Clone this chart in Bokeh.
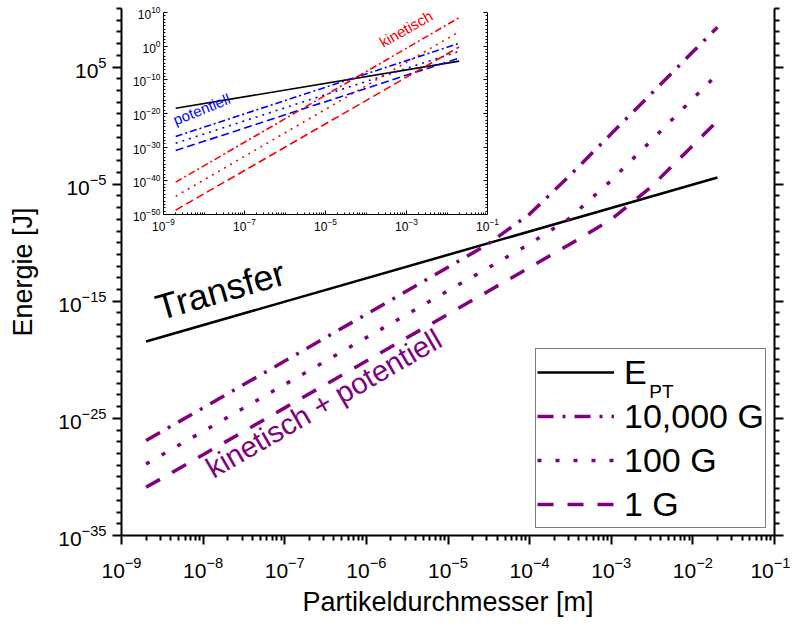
from bokeh.plotting import figure
from bokeh.models import (LogAxis, FixedTicker, CustomJSTickFormatter, Legend,
                          LegendItem, Label, Range1d)
from bokeh.layouts import column
from bokeh.embed import file_html
from bokeh.resources import INLINE

# ---------------- data ----------------
# main plot: particle diameter [m] and energy [J]
d_main = [2e-9, 1e-8, 1e-7, 1e-6, 1e-5, 3e-5, 1e-4, 3e-4, 1e-3, 3e-3, 1e-2, 2e-2]
e_10000g = [1.3e-27, 7.9e-25, 7.9e-21, 7.9e-17, 8.0e-13, 6.7e-11, 2.8e-8, 4.3e-5, 0.20, 430.0, 2.0e6, 2.5e8]
e_100g = [1.3e-29, 7.9e-27, 7.9e-23, 7.9e-19, 7.9e-15, 6.3e-13, 8.1e-11, 1.06e-8, 2.1e-5, 0.043, 200.0, 2.5e4]
e_1g = [1.3e-31, 7.9e-29, 7.9e-25, 7.9e-21, 7.9e-17, 6.3e-15, 7.9e-13, 6.4e-11, 9.9e-9, 4.9e-6, 0.020, 2.5]
d_pt = [2e-9, 2e-2]
e_pt = [3.7e-19, 3.7e-5]

# inset: potential (blue) and kinetic (red) energy
d_inset = [2e-9, 2e-2]
pot_10000g = [1.5e-27, 7.0]
pot_100g = [1.5e-29, 0.03]
pot_1g = [1.0e-31, 3e-4]
kin_10000g = [4e-41, 3e8]
kin_100g = [2.5e-45, 2e4]
kin_1g = [2e-49, 0.6]
e_pt_inset = [3.7e-19, 3.7e-5]

legend_labels = ["E", "10,000 G", "100 G", "1 G"]

FONT = "Liberation Sans"
PURPLE = "#800080"
RED = "#ff0000"
BLUE = "#0000ff"

blank = CustomJSTickFormatter(code="return ''")

LEFT, RIGHT = 121, 16

# ---------------- inset figure ----------------
ins = figure(width=LEFT + 324 + RIGHT, height=238, x_axis_type="log", y_axis_type="log",
             x_range=Range1d(1e-9, 1e-1), y_range=Range1d(1e-50, 1e10),
             min_border_left=LEFT, min_border_right=RIGHT, min_border_top=12, min_border_bottom=24,
             output_backend="svg", toolbar_location=None)
ins.outline_line_color = None
ins.grid.visible = False
ins.background_fill_color = None
ins.border_fill_color = None

ix_major = [10.0 ** k for k in (-9, -7, -5, -3, -1)]
ix_minor = [m * 10.0 ** k for k in range(-9, -1) for m in range(1, 10) if not (m == 1 and k % 2 == 1)]
iy_major = [10.0 ** k for k in range(-50, 11, 10)]
iy_minor = [10.0 ** k for k in range(-50, 11) if k % 10 != 0]

def style_inset_axis(ax, ticker, labels=True):
    ax.ticker = ticker
    ax.axis_line_width = 1
    ax.axis_line_color = "black"
    ax.major_tick_in = 4
    ax.major_tick_out = 0
    ax.minor_tick_in = 2
    ax.minor_tick_out = 0
    ax.major_tick_line_color = "black"
    ax.minor_tick_line_color = "black"
    ax.major_label_text_font = FONT
    ax.major_label_text_font_size = "12px"
    ax.major_label_text_color = "black"
    ax.major_label_standoff = 3
    if not labels:
        ax.formatter = blank

style_inset_axis(ins.xaxis[0], FixedTicker(ticks=ix_major, minor_ticks=ix_minor))
style_inset_axis(ins.yaxis[0], FixedTicker(ticks=iy_major, minor_ticks=iy_minor))
ir = LogAxis()
style_inset_axis(ir, FixedTicker(ticks=iy_major, minor_ticks=iy_minor), labels=False)
ins.add_layout(ir, "right")

ins.line(d_inset, e_pt_inset, line_color="black", line_width=1.6)
ins.line(d_inset, pot_10000g, line_color=BLUE, line_width=1.6, line_dash="7 3 2 3")
ins.line(d_inset, pot_100g, line_color=BLUE, line_width=1.6, line_dash="2 5")
ins.line(d_inset, pot_1g, line_color=BLUE, line_width=1.6, line_dash="8 4")
ins.line(d_inset, kin_10000g, line_color=RED, line_width=1.6, line_dash="7 3 2 3")
ins.line(d_inset, kin_100g, line_color=RED, line_width=1.6, line_dash="2 5")
ins.line(d_inset, kin_1g, line_color=RED, line_width=1.6, line_dash="8 4")

ins.add_layout(Label(x=2.15e-9, y=4e-25, text="potentiell", angle=0.384,
                     text_font=FONT, text_font_size="15px", text_color=BLUE))
ins.add_layout(Label(x=2.9e-4, y=0.045, text="kinetisch", angle=0.52,
                     text_font=FONT, text_font_size="15px", text_color=RED))
ins.margin = (0, 0, 0, 42)

# ---------------- main figure ----------------
p = figure(width=LEFT + 653 + RIGHT, height=620, x_axis_type="log", y_axis_type="log",
           x_range=Range1d(1e-9, 1e-1), y_range=Range1d(1e-35, 1e10),
           min_border_left=LEFT, min_border_right=RIGHT, min_border_top=8, min_border_bottom=85,
           output_backend="svg", toolbar_location=None)
p.outline_line_color = None
p.grid.visible = False
p.background_fill_color = None
p.border_fill_color = None

x_major = [10.0 ** k for k in range(-9, 0)]
x_minor = [m * 10.0 ** k for k in range(-9, -1) for m in range(2, 10)]
y_major = [10.0 ** k for k in (-35, -25, -15, -5, 5)]
y_minor = [10.0 ** k for k in range(-35, 11) if (k + 35) % 10 != 0]

def style_main_axis(ax, ticker, labels=True):
    ax.ticker = ticker
    ax.axis_line_width = 2
    ax.axis_line_color = "black"
    ax.major_tick_in = 0
    ax.major_tick_out = 9
    ax.minor_tick_in = 0
    ax.minor_tick_out = 5
    ax.major_tick_line_width = 2
    ax.minor_tick_line_width = 2
    ax.major_tick_line_color = "black"
    ax.minor_tick_line_color = "black"
    ax.major_label_text_font = FONT
    ax.major_label_text_font_size = "21px"
    ax.major_label_text_color = "black"
    ax.major_label_standoff = 6
    ax.axis_label_text_font = FONT
    ax.axis_label_text_font_size = "27px"
    ax.axis_label_text_font_style = "normal"
    ax.axis_label_text_color = "black"
    if not labels:
        ax.formatter = blank

style_main_axis(p.xaxis[0], FixedTicker(ticks=x_major, minor_ticks=x_minor))
style_main_axis(p.yaxis[0], FixedTicker(ticks=y_major, minor_ticks=y_minor))
p.xaxis[0].axis_label = "Partikeldurchmesser [m]"
p.xaxis[0].major_label_standoff = 12
p.xaxis[0].axis_label_standoff = 6
p.yaxis[0].axis_label = "Energie [J]"
p.yaxis[0].axis_label_standoff = 17
ra = LogAxis()
style_main_axis(ra, FixedTicker(ticks=y_major, minor_ticks=y_minor), labels=False)
p.add_layout(ra, "right")

r_pt = p.line(d_pt, e_pt, line_color="black", line_width=2.5)
r_10k = p.line(d_main, e_10000g, line_color=PURPLE, line_width=3.5, line_dash="16 9 3 9")
r_100 = p.line(d_main, e_100g, line_color=PURPLE, line_width=3.5, line_dash="4 14")
r_1 = p.line(d_main, e_1g, line_color=PURPLE, line_width=3.5, line_dash="16 14")

legend = Legend(items=[LegendItem(label=legend_labels[0], renderers=[r_pt]),
                       LegendItem(label=legend_labels[1], renderers=[r_10k]),
                       LegendItem(label=legend_labels[2], renderers=[r_100]),
                       LegendItem(label=legend_labels[3], renderers=[r_1])],
                location=(414, 7), margin=0, padding=1, spacing=0,
                glyph_width=77, glyph_height=44, label_height=44, label_standoff=10,
                label_text_font=FONT, label_text_font_size="34px", label_text_color="black",
                border_line_color="black", border_line_width=1,
                background_fill_color="white", background_fill_alpha=0)
p.add_layout(legend)

p.add_layout(Label(x=2.92e-3, y=2e-23, text="PT", text_font=FONT, text_baseline="alphabetic",
                   text_font_size="19px", text_color="black", level="overlay"))
p.add_layout(Label(x=3.16e-9, y=5e-18, text="Transfer", angle=0.28,
                   text_font=FONT, text_font_size="36px", text_color="black"))
p.add_layout(Label(x=1.46e-8, y=2.4e-31, text="kinetisch + potentiell", angle=0.525,
                   text_font=FONT, text_font_size="29.5px", text_color=PURPLE))
p.margin = (-238, 0, 0, 0)

layout = column(ins, p)
open("out.html", "w").write(file_html(layout, INLINE))
